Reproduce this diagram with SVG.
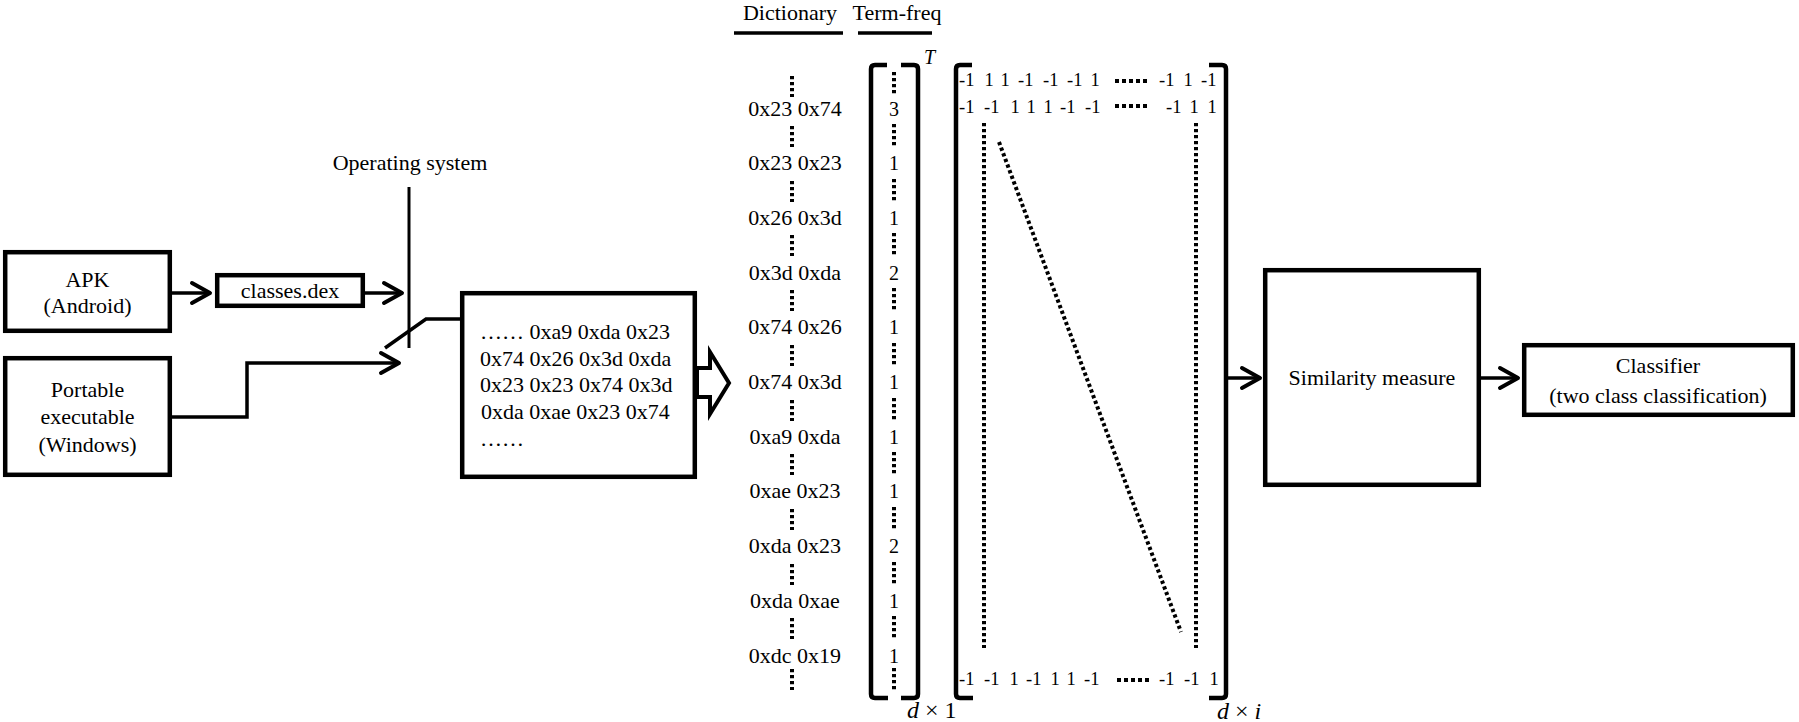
<svg xmlns="http://www.w3.org/2000/svg" width="1799" height="722" viewBox="0 0 1799 722">
<style>
text{font-family:"Liberation Serif","Times New Roman",serif;fill:#000}
.lbl{font-size:22px}
.c{text-anchor:middle}
.box{fill:#fff;stroke:#000;stroke-width:4.5}
.ln{fill:none;stroke:#000;stroke-width:3.5}
.br{fill:none;stroke:#000;stroke-width:4.5;stroke-linejoin:round}
.dot{stroke:#000;stroke-width:4;stroke-dasharray:3.3 2.7}
.bdot{stroke:#000;stroke-width:4;stroke-dasharray:4 3}
.num{font-size:18.5px}
.tf{font-size:20px;text-anchor:middle}
.it{font-style:italic}
</style>
<defs>
<marker id="chev" markerUnits="userSpaceOnUse" markerWidth="24" markerHeight="26" viewBox="0 0 24 26" refX="21" refY="13" orient="auto">
<path d="M3,3 L21,13 L3,23" fill="none" stroke="#000" stroke-width="4" stroke-linejoin="round" stroke-linecap="round"/>
</marker>
</defs>

<g id="connectors">
<line class="ln" x1="172" y1="293" x2="210" y2="293" marker-end="url(#chev)"/>
<line class="ln" x1="365" y1="293" x2="402" y2="293" marker-end="url(#chev)"/>
<polyline class="ln" points="172,417 247,417 247,363 399,363" marker-end="url(#chev)"/>
<line x1="409" y1="187" x2="409" y2="348" stroke="#000" stroke-width="3"/>
<polyline class="ln" points="385,348 426,319 461,319" stroke-width="3"/>
<polygon points="697,368 710,368 710,352 729,383 710,414 710,397 697,397" fill="#fff" stroke="#000" stroke-width="4" stroke-linejoin="miter"/>
<line class="ln" x1="1226" y1="378" x2="1260" y2="378" marker-end="url(#chev)"/>
<line class="ln" x1="1481" y1="378" x2="1518" y2="378" marker-end="url(#chev)"/>
</g>

<g id="os-label">
<text class="lbl c" x="410" y="170">Operating system</text>
</g>

<g id="apk">
<rect class="box" x="5.2" y="252.2" width="164.6" height="78.6"/>
<text class="lbl c" x="87.5" y="287">APK</text>
<text class="lbl c" x="87.5" y="313">(Android)</text>
</g>

<g id="pe">
<rect class="box" x="5.2" y="358.2" width="164.6" height="116.6"/>
<text class="lbl c" x="87.5" y="397">Portable</text>
<text class="lbl c" x="87.5" y="424">executable</text>
<text class="lbl c" x="87.5" y="452">(Windows)</text>
</g>

<g id="dex">
<rect class="box" x="217.2" y="275.2" width="145.6" height="30.6"/>
<text class="lbl c" x="290" y="298">classes.dex</text>
</g>

<g id="bytes">
<rect class="box" x="462.2" y="293.2" width="232.6" height="183.6"/>
<text class="lbl" x="480" y="339">…… 0xa9 0xda 0x23</text>
<text class="lbl" x="480" y="366">0x74 0x26 0x3d 0xda</text>
<text class="lbl" x="480" y="392">0x23 0x23 0x74 0x3d</text>
<text class="lbl" x="481" y="419">0xda 0xae 0x23 0x74</text>
<text class="lbl" x="480" y="446">……</text>
</g>

<g id="dictionary">
<text class="lbl c" x="790" y="20">Dictionary</text>
<line x1="734" y1="33" x2="843" y2="33" stroke="#000" stroke-width="3.5"/>
<line class="dot" x1="792" y1="76" x2="792" y2="97"/>
<line class="dot" x1="792" y1="126" x2="792" y2="147"/>
<line class="dot" x1="792" y1="181" x2="792" y2="202"/>
<line class="dot" x1="792" y1="235" x2="792" y2="256"/>
<line class="dot" x1="792" y1="290" x2="792" y2="311"/>
<line class="dot" x1="792" y1="345" x2="792" y2="366"/>
<line class="dot" x1="792" y1="400" x2="792" y2="421"/>
<line class="dot" x1="792" y1="454" x2="792" y2="475"/>
<line class="dot" x1="792" y1="509" x2="792" y2="530"/>
<line class="dot" x1="792" y1="564" x2="792" y2="585"/>
<line class="dot" x1="792" y1="618" x2="792" y2="639"/>
<line class="dot" x1="792" y1="669" x2="792" y2="690"/>
<text class="lbl c" x="795" y="115.5">0x23 0x74</text>
<text class="lbl c" x="795" y="170.2">0x23 0x23</text>
<text class="lbl c" x="795" y="224.9">0x26 0x3d</text>
<text class="lbl c" x="795" y="279.6">0x3d 0xda</text>
<text class="lbl c" x="795" y="334.3">0x74 0x26</text>
<text class="lbl c" x="795" y="389">0x74 0x3d</text>
<text class="lbl c" x="795" y="443.7">0xa9 0xda</text>
<text class="lbl c" x="795" y="498.4">0xae 0x23</text>
<text class="lbl c" x="795" y="553.1">0xda 0x23</text>
<text class="lbl c" x="795" y="607.8">0xda 0xae</text>
<text class="lbl c" x="795" y="662.5">0xdc 0x19</text>
</g>

<g id="term-freq">
<text class="lbl c" x="897" y="20">Term-freq</text>
<line x1="858" y1="33" x2="932" y2="33" stroke="#000" stroke-width="3.5"/>
<path class="br" d="M887,65 L875,65 Q871,65 871,69 L871,694 Q871,698 875,698 L888,698"/>
<path class="br" d="M901,65 L914,65 Q918,65 918,69 L918,694 Q918,698 914,698 L901,698"/>
<text class="it" x="924" y="64" font-size="20">T</text>
<line class="dot" x1="894" y1="72" x2="894" y2="96"/>
<line class="dot" x1="894" y1="124" x2="894" y2="148"/>
<line class="dot" x1="894" y1="179" x2="894" y2="203"/>
<line class="dot" x1="894" y1="233" x2="894" y2="257"/>
<line class="dot" x1="894" y1="288" x2="894" y2="312"/>
<line class="dot" x1="894" y1="343" x2="894" y2="367"/>
<line class="dot" x1="894" y1="398" x2="894" y2="422"/>
<line class="dot" x1="894" y1="452" x2="894" y2="476"/>
<line class="dot" x1="894" y1="507" x2="894" y2="531"/>
<line class="dot" x1="894" y1="562" x2="894" y2="586"/>
<line class="dot" x1="894" y1="616" x2="894" y2="640"/>
<line class="dot" x1="894" y1="668" x2="894" y2="692"/>
<text class="tf" x="894" y="115.5">3</text>
<text class="tf" x="894" y="170.2">1</text>
<text class="tf" x="894" y="224.9">1</text>
<text class="tf" x="894" y="279.6">2</text>
<text class="tf" x="894" y="334.3">1</text>
<text class="tf" x="894" y="389">1</text>
<text class="tf" x="894" y="443.7">1</text>
<text class="tf" x="894" y="498.4">1</text>
<text class="tf" x="894" y="553.1">2</text>
<text class="tf" x="894" y="607.8">1</text>
<text class="tf" x="894" y="662.5">1</text>
<text x="907" y="718" font-size="24"><tspan class="it">d</tspan> × 1</text>
</g>

<g id="matrix">
<path class="br" d="M972,65 L960,65 Q956,65 956,69 L956,694 Q956,698 960,698 L973,698"/>
<path class="br" d="M1209,65 L1222,65 Q1226,65 1226,69 L1226,694 Q1226,698 1222,698 L1209,698"/>
<text class="num" y="86"><tspan x="959">-1</tspan><tspan x="984.5">1</tspan><tspan x="1000.5">1</tspan><tspan x="1018">-1</tspan><tspan x="1043">-1</tspan><tspan x="1067">-1</tspan><tspan x="1090.5">1</tspan><tspan x="1159">-1</tspan><tspan x="1183.5">1</tspan><tspan x="1201">-1</tspan></text>
<text class="num" y="113"><tspan x="959">-1</tspan><tspan x="984">-1</tspan><tspan x="1010.5">1</tspan><tspan x="1026.5">1</tspan><tspan x="1043.5">1</tspan><tspan x="1060">-1</tspan><tspan x="1085">-1</tspan><tspan x="1166">-1</tspan><tspan x="1189.5">1</tspan><tspan x="1207.5">1</tspan></text>
<text class="num" y="685"><tspan x="959">-1</tspan><tspan x="984">-1</tspan><tspan x="1009.5">1</tspan><tspan x="1026">-1</tspan><tspan x="1050.5">1</tspan><tspan x="1066.5">1</tspan><tspan x="1084">-1</tspan><tspan x="1159">-1</tspan><tspan x="1184">-1</tspan><tspan x="1209.5">1</tspan></text>
<line class="bdot" x1="1115" y1="81" x2="1148" y2="81"/>
<line class="bdot" x1="1115" y1="106" x2="1148" y2="106"/>
<line class="bdot" x1="1117" y1="680" x2="1151" y2="680"/>
<line class="dot" x1="984" y1="123" x2="984" y2="648"/>
<line class="dot" x1="1196" y1="123" x2="1196" y2="648"/>
<line class="dot" x1="999" y1="142" x2="1181" y2="632"/>
<text x="1217" y="719" font-size="24"><tspan class="it">d</tspan> × <tspan class="it">i</tspan></text>
</g>

<g id="similarity">
<rect class="box" x="1265.2" y="270.2" width="213.6" height="214.6"/>
<text class="lbl c" x="1372" y="385">Similarity measure</text>
</g>

<g id="classifier">
<rect class="box" x="1524.2" y="345.2" width="268.6" height="69.6"/>
<text class="lbl c" x="1658" y="373">Classifier</text>
<text class="lbl c" x="1658" y="403">(two class classification)</text>
</g>
</svg>
